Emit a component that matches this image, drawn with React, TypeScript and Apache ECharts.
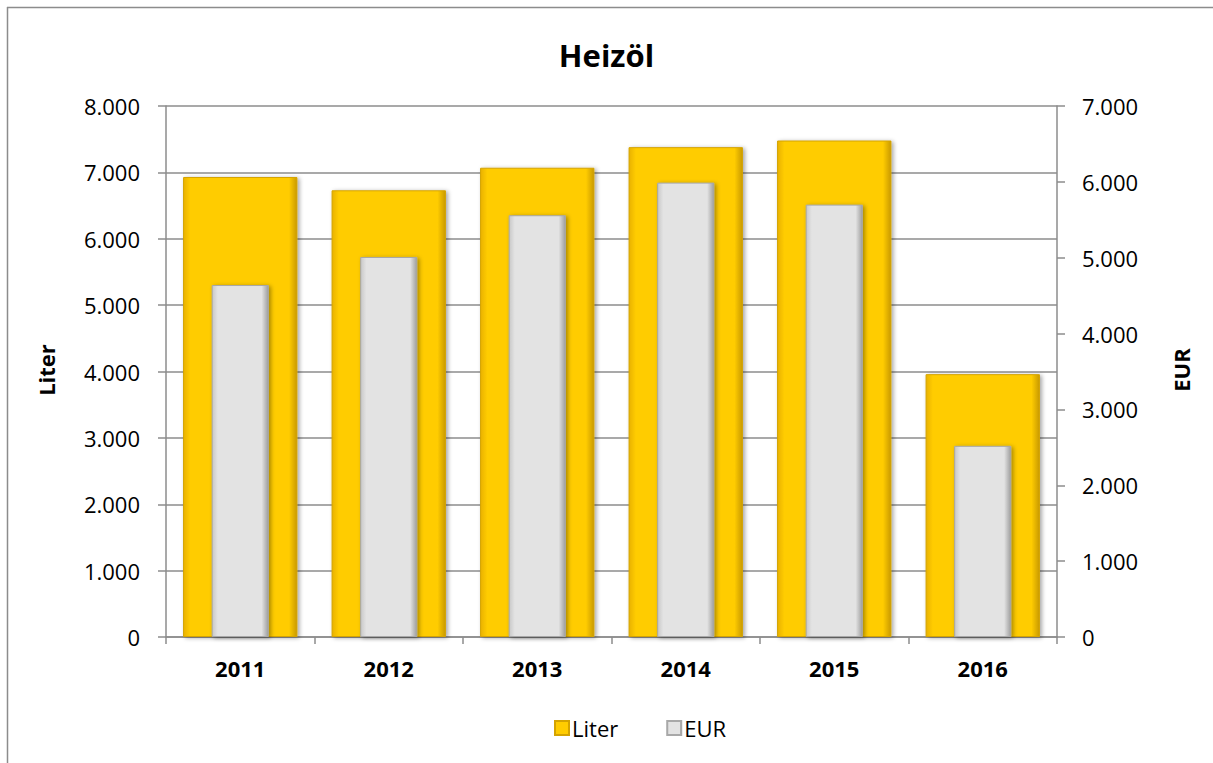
import React, { useEffect, useRef } from "react";
import * as echarts from "echarts";

const years = ["2011", "2012", "2013", "2014", "2015", "2016"];
const literValues = [6930, 6730, 7070, 7380, 7480, 3960];
const eurValues = [4640, 5010, 5560, 5990, 5700, 2520];
const literTicks = { min: 0, max: 8000, interval: 1000 };
const eurTicks = { min: 0, max: 7000, interval: 1000 };

const fmt = (v: number) => {
  const s = Math.round(v).toString();
  return s.replace(/\B(?=(\d{3})+(?!\d))/g, ".");
};

const FONT = "'Open Sans', 'Noto Sans', sans-serif";

export default function App() {
  const ref = useRef<HTMLDivElement>(null);
  useEffect(() => {
    if (!ref.current) return;
    const chart = echarts.init(ref.current, undefined, { renderer: "svg" });
    const gold = new echarts.graphic.LinearGradient(0, 0, 1, 0, [
      { offset: 0, color: "#E9B200" },
      { offset: 0.06, color: "#FFCC00" },
      { offset: 0.93, color: "#FFCC00" },
      { offset: 1, color: "#C99A00" },
    ]);
    const grey = new echarts.graphic.LinearGradient(0, 0, 1, 0, [
      { offset: 0, color: "#C8C8C8" },
      { offset: 0.1, color: "#E3E3E3" },
      { offset: 0.88, color: "#E3E3E3" },
      { offset: 1, color: "#9E9E9E" },
    ]);
    const axisLine = { show: true, lineStyle: { color: "#8C8C8C", width: 1.5 } };
    chart.setOption({
      animation: false,
      backgroundColor: "#FFFFFF",
      title: {
        text: "Heizöl",
        left: "center",
        top: 34,
        textStyle: { fontFamily: FONT, fontWeight: "bold", fontSize: 31, color: "#000" },
      },
      legend: {
        left: 549,
        top: 712,
        icon: "rect",
        itemWidth: 14,
        itemHeight: 14,
        itemGap: 48,
        textStyle: { fontFamily: FONT, fontSize: 22, color: "#000", padding: [0, 0, 0, -2] },
        data: ["Liter", "EUR"],
      },
      grid: { left: 166, right: 156, top: 106, bottom: 126, containLabel: false },
      xAxis: [
        {
          type: "category",
          data: years,
          axisLine,
          axisTick: { show: true, length: 7, lineStyle: { color: "#8C8C8C", width: 1.5 } },
          axisLabel: { fontFamily: FONT, fontWeight: "bold", fontSize: 22, color: "#000", margin: 20 },
        },
        { type: "category", data: years, show: false },
      ],
      yAxis: [
        {
          type: "value",
          ...literTicks,
          axisLine,
          axisTick: { show: true, length: 8, lineStyle: { color: "#8C8C8C", width: 1.5 } },
          axisLabel: { fontFamily: FONT, fontSize: 22, color: "#000", margin: 26, formatter: fmt },
          splitLine: { show: true, lineStyle: { color: "#8C8C8C", width: 1.5 } },
        },
        {
          type: "value",
          ...eurTicks,
          position: "right",
          axisLine,
          axisTick: { show: true, length: 8, lineStyle: { color: "#8C8C8C", width: 1.5 } },
          axisLabel: { fontFamily: FONT, fontSize: 22, color: "#000", margin: 25, formatter: fmt },
          splitLine: { show: false },
        },
      ],
      graphic: [
        { type: "line", shape: { x1: 7, y1: 7.5, x2: 1213, y2: 7.5 }, style: { stroke: "#8C8C8C", lineWidth: 1.5 } },
        { type: "line", shape: { x1: 7.5, y1: 7, x2: 7.5, y2: 763 }, style: { stroke: "#8C8C8C", lineWidth: 1.5 } },
        {
          type: "text",
          x: 46,
          y: 370,
          rotation: Math.PI / 2,
          style: { text: "Liter", fontFamily: FONT, fontWeight: "bold", fontSize: 22, fill: "#000", align: "center", verticalAlign: "middle" },
        },
        {
          type: "text",
          x: 1181,
          y: 370,
          rotation: Math.PI / 2,
          style: { text: "EUR", fontFamily: FONT, fontWeight: "bold", fontSize: 22, fill: "#000", align: "center", verticalAlign: "middle" },
        },
      ],
      series: [
        {
          name: "Liter",
          type: "bar",
          xAxisIndex: 0,
          yAxisIndex: 0,
          data: literValues,
          barWidth: "77%",
          itemStyle: {
            color: gold,
            borderColor: "#D4A300",
            borderWidth: 1,
            shadowBlur: 4,
            shadowOffsetX: 2,
            shadowOffsetY: 1,
            shadowColor: "rgba(0,0,0,0.35)",
          },
        },
        {
          name: "EUR",
          type: "bar",
          xAxisIndex: 1,
          yAxisIndex: 1,
          data: eurValues,
          barWidth: "38.5%",
          itemStyle: {
            color: grey,
            borderColor: "#A8A8A8",
            borderWidth: 1,
            shadowBlur: 4,
            shadowOffsetX: 2,
            shadowOffsetY: 1,
            shadowColor: "rgba(0,0,0,0.35)",
          },
        },
      ],
    });
    return () => chart.dispose();
  }, []);
  return <div ref={ref} style={{ position: "absolute", left: 0, top: 0, width: 1213, height: 763 }} />;
}
